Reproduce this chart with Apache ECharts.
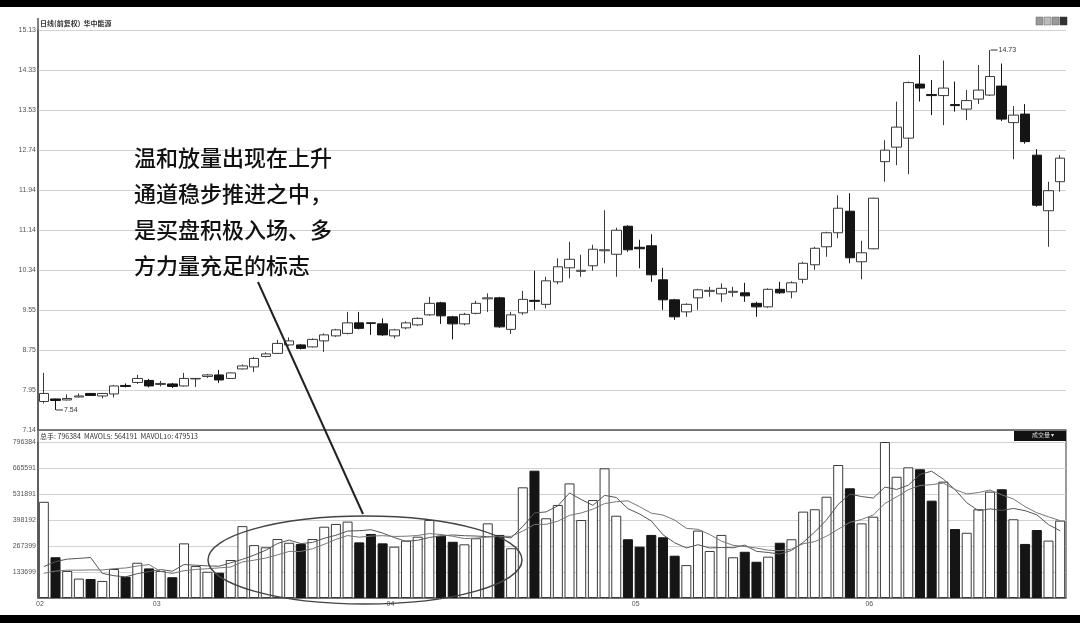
<!DOCTYPE html>
<html><head><meta charset="utf-8">
<script src="https://cdn.jsdelivr.net/npm/echarts@6/dist/echarts.min.js"></script>
<style>html,body{margin:0;padding:0;background:#fff}#c{width:1080px;height:623px}</style>
</head><body><div id="c"></div>
<script>
// ---- data ----
const months = ['02','03','04','05','06'];
const monthDays = [10,20,21,20,17];
const open  = [7.71,7.76,7.74,7.80,7.87,7.82,7.86,8.03,8.09,8.13,8.05,8.06,8.02,8.16,8.21,8.24,8.17,8.36,8.40,8.61,8.67,8.84,8.84,8.80,8.92,9.02,9.07,9.28,9.28,9.26,9.02,9.18,9.24,9.44,9.68,9.40,9.26,9.47,9.76,9.78,9.15,9.48,9.73,9.65,10.10,10.38,10.31,10.42,10.72,10.65,11.21,10.79,10.82,10.14,9.74,9.50,9.78,9.91,9.86,9.89,9.88,9.67,9.60,9.95,9.90,10.15,10.44,10.80,11.08,11.51,10.50,10.76,12.50,12.79,12.97,14.05,13.84,13.82,13.64,13.55,13.75,13.83,14.01,13.28,13.45,12.63,11.52,12.10];
const close = [7.87,7.73,7.77,7.82,7.83,7.87,8.02,8.01,8.17,8.02,8.07,8.01,8.17,8.17,8.24,8.14,8.28,8.42,8.57,8.66,8.87,8.92,8.77,8.95,9.04,9.14,9.28,9.17,9.27,9.04,9.14,9.28,9.37,9.67,9.42,9.26,9.45,9.67,9.78,9.20,9.44,9.75,9.71,10.12,10.40,10.55,10.33,10.75,10.74,11.13,10.74,10.76,10.24,9.74,9.40,9.65,9.94,9.93,9.97,9.91,9.82,9.60,9.95,9.88,10.08,10.47,10.77,11.08,11.57,10.58,10.68,11.77,12.73,13.19,14.08,13.97,13.82,13.97,13.62,13.72,13.93,14.20,13.35,13.43,12.90,11.63,11.92,12.57];
const low   = [7.67,7.54,7.73,7.79,7.82,7.77,7.79,7.99,8.06,7.99,8.01,7.98,8.01,8.00,8.18,8.08,8.16,8.35,8.30,8.59,8.66,8.82,8.75,8.79,8.70,9.00,9.05,9.15,9.04,9.02,8.97,9.15,9.22,9.42,9.26,8.95,9.23,9.45,9.50,9.18,9.06,9.44,9.54,9.57,10.05,10.17,10.20,10.32,10.47,10.20,10.70,10.37,10.10,9.54,9.34,9.40,9.54,9.80,9.70,9.80,9.70,9.40,9.58,9.86,9.77,10.07,10.34,10.60,10.97,10.47,10.15,10.75,12.10,12.43,12.25,13.70,13.43,13.23,13.50,13.33,13.65,13.81,13.31,12.55,12.86,11.60,10.80,11.90];
const high  = [8.28,7.77,7.85,7.87,7.88,7.88,8.04,8.07,8.24,8.16,8.12,8.08,8.28,8.18,8.26,8.34,8.29,8.45,8.60,8.69,8.94,8.99,8.86,8.97,9.07,9.16,9.50,9.50,9.29,9.37,9.16,9.31,9.39,9.80,9.70,9.42,9.48,9.72,9.87,9.80,9.50,9.92,10.32,10.20,10.57,10.90,10.64,10.84,11.53,11.18,11.23,10.94,11.05,10.38,9.76,9.67,9.96,10.00,10.07,10.00,10.08,9.70,9.97,10.10,10.11,10.50,10.80,11.10,11.83,11.87,10.92,11.78,12.93,13.70,14.10,14.63,14.13,14.52,14.10,13.93,14.43,14.73,14.46,13.61,13.65,12.75,12.10,12.63];
const volume = [491000,208000,138000,99000,97000,87000,148000,109000,180000,151000,138000,106000,279000,163000,134000,129000,194000,367000,270000,259000,301000,282000,276000,301000,364000,378000,390000,284000,327000,279000,262000,293000,313000,398000,318000,287000,274000,305000,381000,322000,254000,565000,650000,407000,475000,585000,398000,500000,662000,420000,300000,262000,322000,310000,216000,168000,344000,240000,322000,208000,236000,185000,211000,282000,300000,441000,453000,517000,679000,560000,381000,415000,796384,619000,667000,657000,497000,594000,352000,333000,453000,543000,555000,402000,276000,347000,293000,395000];
// volumes of the bars just before the visible window, estimated from the MA lines' starting level
const preVolume = [95000,90000,100000,85000,90000,80000,75000,80000,75000];
const priceTickLabels = ['7.14','7.95','8.75','9.55','10.34','11.14','11.94','12.74','13.53','14.33','15.13'];
const priceMin = 7.14, priceMax = 15.13;
const volTickLabels = ['','133699','267399','398192','531891','665591','796384'];
const volTop = 796384;
const noteLines = ['温和放量出现在上升','通道稳步推进之中，','是买盘积极入场、多','方力量充足的标志'];

// ---- derived ----
const categories = [];
const monthStart = {};
months.forEach((m, mi) => {
  monthStart[categories.length] = m;
  for (let d = 1; d <= monthDays[mi]; d++) categories.push(m + '-' + String(d).padStart(2,'0'));
});
const kData = open.map((o,i) => [o, close[i], low[i], high[i]]);
const volData = volume.map((v,i) => ({value: v, itemStyle: {color: close[i] >= open[i] ? '#ffffff' : '#151515', borderColor: close[i] >= open[i] ? '#3a3a3a' : '#151515'}}));
function ma(n) {
  const all = preVolume.concat(volume);
  return volume.map((_, i) => {
    let s = 0;
    for (let k = 0; k < n; k++) s += all[preVolume.length + i - k];
    return Math.round(s / n);
  });
}
let hiIdx = 0, loIdx = 0;
high.forEach((h,i) => { if (h > high[hiIdx]) hiIdx = i; });
low.forEach((l,i) => { if (l < low[loIdx]) loIdx = i; });

const L = 38, R = 14;
const labelFont = {fontSize: 7, color: '#555', fontFamily: 'Liberation Sans, Arial'};
const chart = echarts.init(document.getElementById('c'));
chart.setOption({
  animation: false,
  backgroundColor: '#ffffff',
  grid: [
    {left: L, right: R, top: 30, height: 400},
    {left: L, right: R, top: 442, height: 156}
  ],
  xAxis: [
    {type: 'category', gridIndex: 0, data: categories, boundaryGap: true,
     axisLine: {show: true, lineStyle: {color: '#555', width: 1.5}}, axisTick: {show: false}, axisLabel: {show: false}, splitLine: {show: false}},
    {type: 'category', gridIndex: 1, data: categories, boundaryGap: true,
     axisLine: {show: true, lineStyle: {color: '#555', width: 1.5}}, axisTick: {show: false},
     axisLabel: Object.assign({}, labelFont, {margin: 3, align: 'right',
       interval: (idx) => monthStart[idx] !== undefined,
       formatter: (v, idx) => monthStart[idx] || ''}),
     splitLine: {show: false}}
  ],
  yAxis: [
    {type: 'value', gridIndex: 0, position: 'left', min: priceMin, max: priceMax, show: false},
    {type: 'value', gridIndex: 0, position: 'left', min: 0, max: priceTickLabels.length - 1, interval: 1,
     axisLine: {show: true, lineStyle: {color: '#555', width: 1.5}}, axisTick: {show: false},
     splitLine: {show: true, lineStyle: {color: '#d2d2d2', width: 1}},
     axisLabel: Object.assign({}, labelFont, {margin: 2, formatter: v => priceTickLabels[Math.round(v)]})},
    {type: 'value', gridIndex: 1, position: 'left', min: 0, max: volTop, interval: volTop / 6,
     axisLine: {show: true, lineStyle: {color: '#555', width: 1.5}}, axisTick: {show: false},
     splitLine: {show: true, lineStyle: {color: '#d2d2d2', width: 1}},
     axisLabel: Object.assign({}, labelFont, {margin: 2, formatter: v => volTickLabels[Math.round(v / (volTop / 6))]})}
  ],
  series: [
    {type: 'candlestick', xAxisIndex: 0, yAxisIndex: 0, data: kData, barWidth: 10,
     itemStyle: {color: '#ffffff', color0: '#151515', borderColor: '#3a3a3a', borderColor0: '#151515', borderColorDoji: '#3a3a3a', borderWidth: 1},
     markPoint: {
       symbol: 'rect', symbolSize: [7, 1], symbolOffset: [4, 0], silent: true,
       itemStyle: {color: '#333'},
       label: {show: true, position: 'right', distance: 1, fontSize: 7, color: '#333', fontFamily: 'Liberation Sans, Arial', formatter: p => p.value.toFixed(2)},
       data: [
         {coord: [hiIdx, high[hiIdx]], value: high[hiIdx]},
         {coord: [loIdx, low[loIdx]], value: low[loIdx]}
       ]
     }},
    {type: 'bar', xAxisIndex: 1, yAxisIndex: 2, data: volData, barWidth: 10,
     itemStyle: {borderWidth: 1}},
    {type: 'line', xAxisIndex: 1, yAxisIndex: 2, data: ma(5), symbol: 'none', lineStyle: {color: '#555', width: 1}, z: 5},
    {type: 'line', xAxisIndex: 1, yAxisIndex: 2, data: ma(10), symbol: 'none', lineStyle: {color: '#777', width: 1}, z: 5}
  ],
  graphic: [
    {type: 'rect', shape: {x: 0, y: 0, width: 1080, height: 7}, style: {fill: '#000'}},
    {type: 'rect', shape: {x: 0, y: 615, width: 1080, height: 8}, style: {fill: '#000'}, z: 200},
    {type: 'line', shape: {x1: L, y1: 18, x2: L, y2: 598}, style: {stroke: '#555', lineWidth: 1.5}},
    {type: 'line', shape: {x1: 1080 - R, y1: 430, x2: 1080 - R, y2: 598}, style: {stroke: '#555', lineWidth: 1.2}},
    {type: 'text', x: 40, y: 20, style: {text: '日线(前复权)  华中能源', fontSize: 7, fontWeight: 'bold', fill: '#333', fontFamily: '"Noto Sans CJK SC"'}},
    {type: 'rect', shape: {x: 1036, y: 17, width: 7, height: 8}, style: {fill: '#999', stroke: '#666', lineWidth: 0.5}},
    {type: 'rect', shape: {x: 1044, y: 17, width: 7, height: 8}, style: {fill: '#bbb', stroke: '#666', lineWidth: 0.5}},
    {type: 'rect', shape: {x: 1052, y: 17, width: 7, height: 8}, style: {fill: '#999', stroke: '#666', lineWidth: 0.5}},
    {type: 'rect', shape: {x: 1060, y: 17, width: 7, height: 8}, style: {fill: '#333', stroke: '#333', lineWidth: 0.5}},
    {type: 'text', x: 40, y: 433, style: {text: '总手: 796384  MAVOL5: 564191  MAVOL10: 479513', fontSize: 7, fill: '#333', fontFamily: '"Noto Sans CJK SC"'}},
    {type: 'rect', shape: {x: 1014, y: 431, width: 52, height: 10}, style: {fill: '#111'}},
    {type: 'text', x: 1032, y: 432, style: {text: '成交量 ▾', fontSize: 6, fill: '#ddd', fontFamily: '"Noto Sans CJK SC"'}},
    {type: 'text', x: 134, y: 140, z: 100, style: {text: noteLines.join('\n'), fontSize: 22, fontWeight: 500, lineHeight: 36, fill: '#111', fontFamily: '"Noto Sans CJK SC"'}},
    {type: 'line', z: 100, shape: {x1: 258, y1: 282, x2: 363, y2: 514}, style: {stroke: '#222', lineWidth: 2}},
    {type: 'ellipse', z: 100, shape: {cx: 365, cy: 560, rx: 157, ry: 44}, style: {fill: 'none', stroke: '#444', lineWidth: 1.5}}
  ]
});
</script>
</body></html>
